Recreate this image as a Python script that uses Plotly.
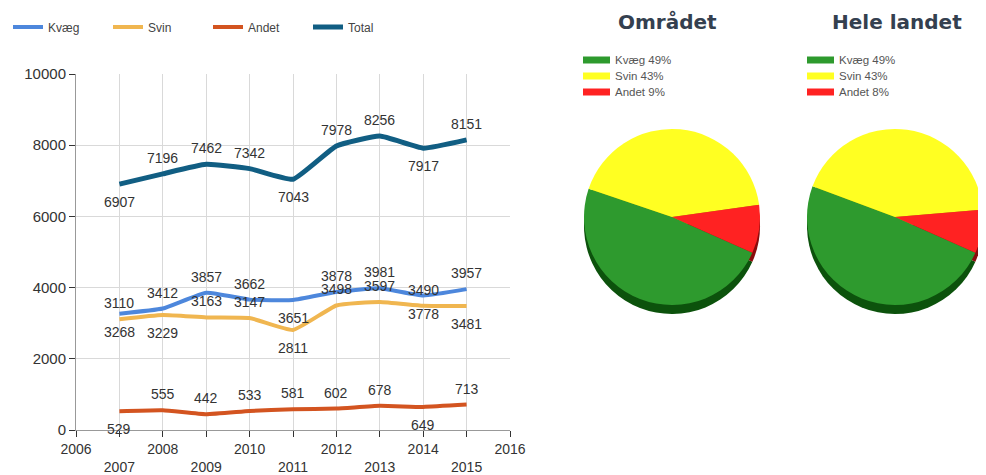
import plotly.graph_objects as go

# ---------------- data ----------------
years = [2007, 2008, 2009, 2010, 2011, 2012, 2013, 2014, 2015]
kvaeg = [3268, 3412, 3857, 3662, 3651, 3878, 3981, 3778, 3957]
svin = [3110, 3229, 3163, 3147, 2811, 3498, 3597, 3490, 3481]
andet = [529, 555, 442, 533, 581, 602, 678, 649, 713]
total = [6907, 7196, 7462, 7342, 7043, 7978, 8256, 7917, 8151]
series_names = ["Kvæg", "Svin", "Andet", "Total"]

x_tick_years = [2006, 2007, 2008, 2009, 2010, 2011, 2012, 2013, 2014, 2015, 2016]
y_tick_vals = [0, 2000, 4000, 6000, 8000, 10000]

pie_categories = ["Kvæg", "Svin", "Andet"]
pie_omraadet = [49, 43, 9]
pie_landet = [49, 43, 8]
pie_titles = ["Området", "Hele landet"]

# ---------------- style ----------------
W, H = 986, 475
OFF = 8  # page body margin
def px(x):
    return (x - OFF) / W
def py(y):
    return 1 - (y - OFF) / H

line_colors = ["#4d87dc", "#f0b650", "#d35420", "#115e83"]
line_widths = [4, 4, 4, 5]
# label placement per point: 'a' above, 'b' below
label_pos = [
    ["b", "a", "a", "a", "b", "a", "a", "b", "a"],
    ["a", "b", "a", "a", "b", "a", "a", "a", "b"],
    ["b", "a", "a", "a", "a", "a", "a", "b", "a"],
    ["b", "a", "a", "a", "b", "a", "a", "b", "a"],
]
pie_colors = ["#2e9a2e", "#ffff22", "#ff2222"]
pie_shadow = ["#0c520c", "#a0a000", "#8a0c0c"]
FONT = "Liberation Sans, Arial, sans-serif"

fig = go.Figure()

all_series = [kvaeg, svin, andet, total]
for name, vals, col, lw in zip(series_names, all_series, line_colors, line_widths):
    fig.add_trace(go.Scatter(
        x=years, y=vals, mode="lines", name=name,
        line=dict(color=col, width=lw, shape="spline", smoothing=0.4),
        xaxis="x", yaxis="y", legend="legend",
    ))

annotations = []
for vals, pos in zip(all_series, label_pos):
    for xv, yv, p in zip(years, vals, pos):
        annotations.append(dict(
            x=xv, y=yv, xref="x", yref="y", text=str(yv), showarrow=False,
            yshift=16 if p == "a" else -18,
            font=dict(family=FONT, size=14, color="#333333"),
        ))

# x tick labels in two rows
ticktext = [str(y) if y % 2 == 0 else "<br>" + str(y) for y in x_tick_years]

# pies
pie_centers = [672, 895]
pie_cy = 217
R = 88
shadow_off = 9
for i, (vals, cx) in enumerate(zip([pie_omraadet, pie_landet], pie_centers)):
    xd = [px(cx - R), px(cx + R)]
    fig.add_trace(go.Pie(
        labels=pie_categories, values=vals, sort=False, direction="clockwise",
        rotation=114, textinfo="none", hoverinfo="label+percent",
        marker=dict(colors=pie_shadow, line=dict(width=0)),
        domain=dict(x=xd, y=[py(pie_cy + shadow_off + R), py(pie_cy + shadow_off - R)]),
        showlegend=False,
    ))
    fig.add_trace(go.Pie(
        labels=pie_categories, values=vals, sort=False, direction="clockwise",
        rotation=114, textinfo="none", hoverinfo="label+percent",
        marker=dict(colors=pie_colors, line=dict(width=0)),
        domain=dict(x=xd, y=[py(pie_cy + R), py(pie_cy - R)]),
        showlegend=False,
    ))

# pie titles
for title, cx in zip(pie_titles, [667, 897]):
    annotations.append(dict(
        x=px(cx), y=py(22), xref="paper", yref="paper", text="<b>" + title + "</b>",
        showarrow=False, xanchor="center", yanchor="middle",
        font=dict(family="DejaVu Sans", size=20, color="#34404f"),
    ))

# pie legends (manual)
shapes = []
legend_x0 = [583, 807]
row_y = [60, 76, 92]
for vals, lx in zip([pie_omraadet, pie_landet], legend_x0):
    for cat, v, col, ry in zip(pie_categories, vals, pie_colors, row_y):
        shapes.append(dict(
            type="rect", xref="paper", yref="paper",
            x0=px(lx), x1=px(lx + 27), y0=py(ry + 3.5), y1=py(ry - 3.5),
            fillcolor=col, line=dict(width=0),
        ))
        annotations.append(dict(
            x=px(lx + 30), y=py(ry), xref="paper", yref="paper",
            text=f"{cat} {v}%", showarrow=False, xanchor="left", yanchor="middle",
            font=dict(family=FONT, size=11.5, color="#555555"),
        ))

fig.update_layout(
    width=W, height=H,
    margin=dict(l=0, r=0, t=0, b=0, autoexpand=False),
    paper_bgcolor="white", plot_bgcolor="white",
    xaxis=dict(
        domain=[px(76), px(510)], range=[2006, 2016],
        tickvals=x_tick_years, ticktext=ticktext,
        ticks="outside", ticklen=6, tickcolor="#333333",
        showline=True, linecolor="#999999", linewidth=1,
        showgrid=True, gridcolor="#d9d9d9", gridwidth=1,
        tickfont=dict(family=FONT, size=14, color="#333333"),
        zeroline=False, fixedrange=True, automargin=False,
    ),
    yaxis=dict(
        domain=[py(430), py(74)], range=[0, 10000],
        tickvals=y_tick_vals, ticktext=[str(v) for v in y_tick_vals],
        ticks="outside", ticklen=6, tickcolor="#333333",
        showline=True, linecolor="#999999", linewidth=1,
        showgrid=True, gridcolor="#d9d9d9", gridwidth=1,
        tickfont=dict(family=FONT, size=15, color="#333333"),
        zeroline=False, fixedrange=True, automargin=False,
    ),
    legend=dict(
        orientation="h", xref="container", yref="container",
        x=px(7), y=py(27), xanchor="left", yanchor="middle",
        entrywidth=55, entrywidthmode="pixels",
        font=dict(family=FONT, size=12, color="#444444"),
        bgcolor="rgba(0,0,0,0)",
    ),
    annotations=annotations,
    shapes=shapes,
)

fig.write_html("out.html")
